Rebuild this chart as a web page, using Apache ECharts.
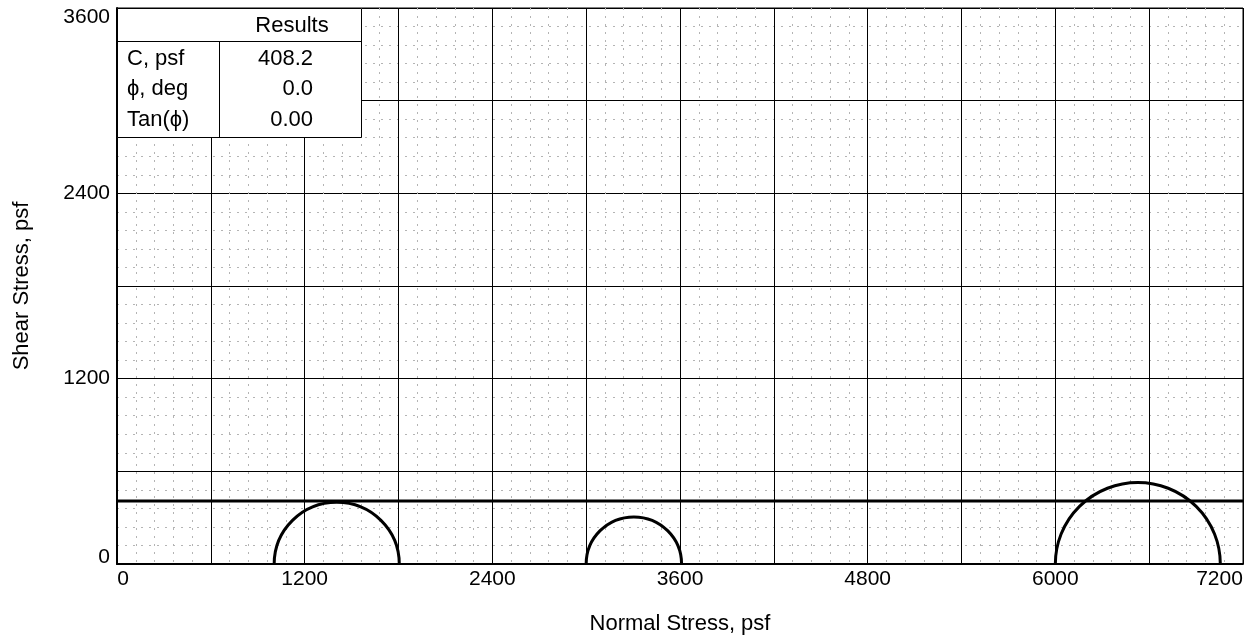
<!DOCTYPE html>
<html>
<head>
<meta charset="utf-8">
<script src="https://cdn.jsdelivr.net/npm/echarts@6/dist/echarts.min.js"></script>
<style>
html,body{margin:0;padding:0;background:#fff;}
#chart{width:1251px;height:640px;}
</style>
</head>
<body>
<div id="chart"></div>
<script>
// ---- data ----
const xTickLabels = [0, 1200, 2400, 3600, 4800, 6000, 7200];
const yTickLabels = [0, 1200, 2400, 3600];
const sigma3 = [1005, 3000, 6000];      // minor principal stress, psf
const sigma1 = [1805, 3610, 7055];      // major principal stress, psf
const cohesion = 408.2;                 // C, psf
const tanPhi = 0.00;
const tableHeader = 'Results';
const tableLabels = ['C, psf', 'ϕ, deg', 'Tan(ϕ)'];
const tableValues = ['408.2', '0.0', '0.00'];
const xName = 'Normal Stress, psf';
const yName = 'Shear Stress, psf';

const FONT = "'Liberation Sans', Arial, sans-serif";
const chart = echarts.init(document.getElementById('chart'), null, {renderer: 'canvas'});

const xMin = xTickLabels[0], xMax = xTickLabels[xTickLabels.length - 1];
const yMin = yTickLabels[0], yMax = yTickLabels[yTickLabels.length - 1];

const circles = sigma3.map((s, i) => [s, sigma1[i]]);
const envelope = [[xMin, cohesion + xMin * tanPhi], [xMax, cohesion + xMax * tanPhi]];

// table graphic
const TZ = 100;
const tbl = {x: 117, y: 8, w: 244, h: 129, headH: 33, divX: 219, rowY: [59, 89, 120], valRight: 313, labLeft: 127};
const tableEls = [
  {type: 'rect', z: TZ, shape: {x: tbl.x + 0.5, y: tbl.y + 0.5, width: tbl.w, height: tbl.h},
   style: {fill: '#fff', stroke: '#000', lineWidth: 1}},
  {type: 'line', z: TZ + 1, shape: {x1: tbl.x, y1: tbl.y + tbl.headH + 0.5, x2: tbl.x + tbl.w, y2: tbl.y + tbl.headH + 0.5},
   style: {stroke: '#000', lineWidth: 1}},
  {type: 'line', z: TZ + 1, shape: {x1: tbl.divX + 0.5, y1: tbl.y + tbl.headH, x2: tbl.divX + 0.5, y2: tbl.y + tbl.h},
   style: {stroke: '#000', lineWidth: 1}},
  {type: 'text', z: TZ + 2, x: 292, y: 26, style: {text: tableHeader, font: '22px ' + FONT, fill: '#000', align: 'center', verticalAlign: 'middle'}}
];
tableLabels.forEach((t, i) => {
  tableEls.push({type: 'text', z: TZ + 2, x: tbl.labLeft, y: tbl.rowY[i],
    style: {text: t, font: '22px ' + FONT, fill: '#000', align: 'left', verticalAlign: 'middle'}});
  tableEls.push({type: 'text', z: TZ + 2, x: tbl.valRight, y: tbl.rowY[i],
    style: {text: tableValues[i], font: '22px ' + FONT, fill: '#000', align: 'right', verticalAlign: 'middle'}});
});

const option = {
  backgroundColor: '#fff',
  animation: false,
  textStyle: {fontFamily: FONT},
  grid: {left: 117, right: 8, top: 8, bottom: 75, show: true, borderColor: '#000', borderWidth: 1, containLabel: false},
  xAxis: {
    type: 'value', min: xMin, max: xMax, interval: 600,
    name: xName, nameLocation: 'middle', nameGap: 49,
    nameTextStyle: {fontSize: 22, color: '#000', fontFamily: FONT},
    axisLine: {show: true, onZero: false, lineStyle: {color: '#000', width: 2}},
    axisTick: {show: false},
    axisLabel: {
      color: '#000', fontSize: 21, fontFamily: FONT, margin: 5,
      formatter: v => {
        if (xTickLabels.indexOf(v) < 0) return '';
        if (v === xMin) return '{first|' + v + '}';
        if (v === xMax) return '{last|' + v + '}';
        return String(v);
      },
      rich: {
        first: {fontSize: 21, fontFamily: FONT, color: '#000', padding: [0, 0, 0, 12]},
        last: {fontSize: 21, fontFamily: FONT, color: '#000', padding: [0, 47, 0, 0]}
      }
    },
    splitLine: {show: true, lineStyle: {color: '#000', width: 1}},
    minorTick: {show: false, splitNumber: 5},
    minorSplitLine: {show: true, lineStyle: {color: '#b4b4b4', width: 1, type: [2, 6]}}
  },
  yAxis: {
    type: 'value', min: yMin, max: yMax, interval: 600,
    name: yName, nameLocation: 'middle', nameGap: 84, nameRotate: 90,
    nameTextStyle: {fontSize: 22, color: '#000', fontFamily: FONT},
    axisLine: {show: true, onZero: false, lineStyle: {color: '#000', width: 2}},
    axisTick: {show: false},
    axisLabel: {
      color: '#000', fontSize: 21, fontFamily: FONT, margin: 7,
      formatter: v => {
        if (yTickLabels.indexOf(v) < 0) return '';
        if (v === yMin) return '{low|' + v + '}';
        if (v === yMax) return '{high|' + v + '}';
        return String(v);
      },
      rich: {
        low: {fontSize: 21, fontFamily: FONT, color: '#000', padding: [0, 0, 14, 0]},
        high: {fontSize: 21, fontFamily: FONT, color: '#000', padding: [19, 0, 0, 0]}
      }
    },
    splitLine: {show: true, lineStyle: {color: '#000', width: 1}},
    minorTick: {show: false, splitNumber: 5},
    minorSplitLine: {show: true, lineStyle: {color: '#b4b4b4', width: 1, type: [2, 6]}}
  },
  series: [
    {
      type: 'line', data: envelope, symbol: 'none', silent: true, z: 5,
      lineStyle: {color: '#000', width: 3}
    },
    {
      type: 'custom', data: circles, z: 6, silent: true,
      renderItem: (params, api) => {
        const s3 = api.value(0), s1 = api.value(1);
        const p1 = api.coord([s3, 0]);
        const p2 = api.coord([s1, 0]);
        const r = (s1 - s3) / 2;
        const rx = (p2[0] - p1[0]) / 2;
        const ry = api.size([0, r])[1];
        return {
          type: 'path',
          shape: {pathData: 'M ' + p1[0] + ' ' + p1[1] + ' A ' + rx + ' ' + ry + ' 0 0 1 ' + p2[0] + ' ' + p2[1]},
          style: {fill: 'none', stroke: '#000', lineWidth: 3}
        };
      }
    }
  ],
  graphic: {elements: tableEls}
};
chart.setOption(option);
</script>
</body>
</html>
